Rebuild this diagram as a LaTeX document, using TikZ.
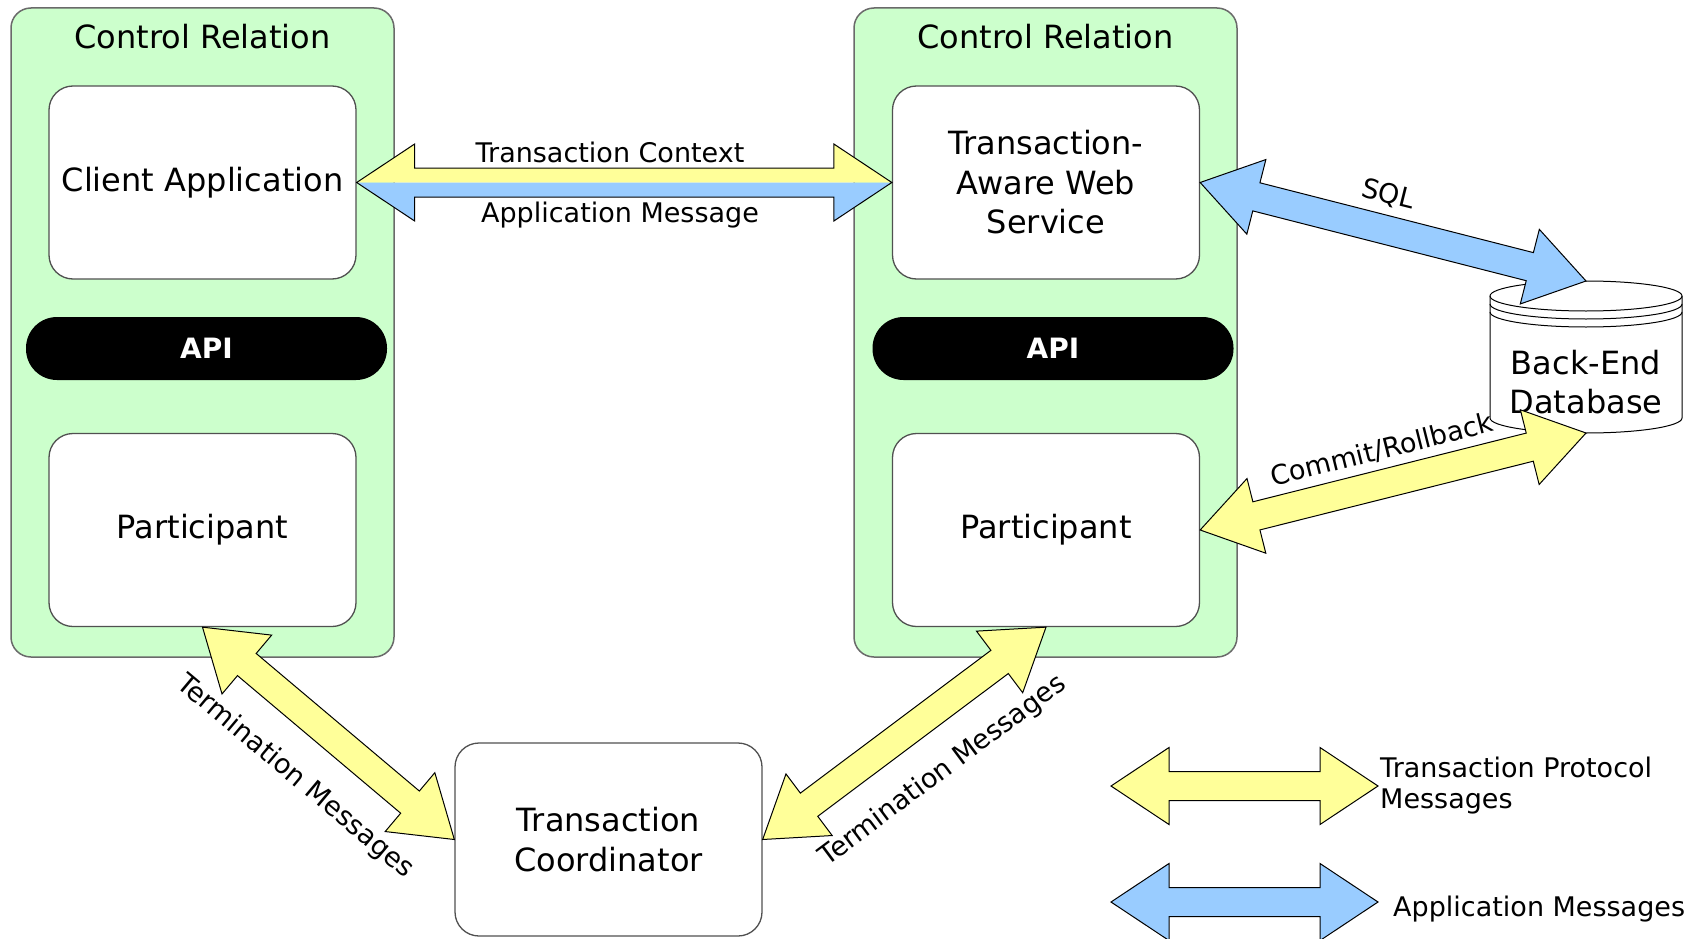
\documentclass[tikz,border=0pt]{standalone}
\usepackage{fontspec}
\setmainfont{DejaVu Sans}
\usetikzlibrary{calc}
\definecolor{crgreen}{HTML}{CCFFCC}
\definecolor{tyellow}{HTML}{FFFF99}
\definecolor{ablue}{HTML}{99CCFF}
\definecolor{boxline}{HTML}{505050}
\definecolor{crline}{HTML}{6A6A6A}
\newcommand{\boxfont}{\fontsize{32}{39.5}\selectfont}
\newcommand{\lblfont}{\fontsize{27}{31}\selectfont}
% full double-headed block arrow from #2 to #3
\newcommand{\dblarrow}[3][]{%
 \path[#1] (#2)
 -- ($(#2)!58pt!(#3)!38.5pt!90:(#3)$)
 -- ($(#2)!58pt!(#3)!14.5pt!90:(#3)$)
 -- ($(#3)!58pt!(#2)!14.5pt!-90:(#2)$)
 -- ($(#3)!58pt!(#2)!38.5pt!-90:(#2)$)
 -- (#3)
 -- ($(#3)!58pt!(#2)!38.5pt!90:(#2)$)
 -- ($(#3)!58pt!(#2)!14.5pt!90:(#2)$)
 -- ($(#2)!58pt!(#3)!14.5pt!-90:(#3)$)
 -- ($(#2)!58pt!(#3)!38.5pt!-90:(#3)$)
 -- cycle;}
% left (CCW) half of the block arrow
\newcommand{\halfup}[3][]{%
 \path[#1] (#2)
 -- ($(#2)!58pt!(#3)!38.5pt!90:(#3)$)
 -- ($(#2)!58pt!(#3)!14.5pt!90:(#3)$)
 -- ($(#3)!58pt!(#2)!14.5pt!-90:(#2)$)
 -- ($(#3)!58pt!(#2)!38.5pt!-90:(#2)$)
 -- (#3) -- cycle;}
\newcommand{\halfdown}[3][]{%
 \path[#1] (#3)
 -- ($(#3)!58pt!(#2)!38.5pt!90:(#2)$)
 -- ($(#3)!58pt!(#2)!14.5pt!90:(#2)$)
 -- ($(#2)!58pt!(#3)!14.5pt!-90:(#3)$)
 -- ($(#2)!58pt!(#3)!38.5pt!-90:(#3)$)
 -- (#2) -- cycle;}
\tikzset{
 container/.style={draw=crline, line width=1.5pt, fill=crgreen, rounded corners=20pt,
   minimum width=383pt, minimum height=649pt, inner sep=0pt},
 whitebox/.style={draw=boxline, line width=1.3pt, fill=white, rounded corners=24pt,
   minimum width=307pt, minimum height=193pt, inner sep=0pt, align=center, font=\boxfont},
 apibar/.style={fill=black, rounded corners=31pt, minimum width=361pt, minimum height=63pt,
   inner sep=0pt, text=white, font=\bfseries\fontsize{28}{30}\selectfont},
 arrowline/.style={draw=black, line width=1pt, line join=miter},
 lbl/.style={font=\lblfont, inner sep=0pt},
 titlelbl/.style={font=\boxfont, inner sep=0pt},
 dbline/.style={draw=black, line width=1pt}
}
\begin{document}
\begin{tikzpicture}[x=1pt, y=-1pt]
\useasboundingbox[fill=white] (0,0) rectangle (1694,939);

% containers
\node[container] (crL) at (202.5,332.5) {};
\node[container] (crR) at (1045.5,332.5) {};
\node[titlelbl] (crLlabel) at (202.5,36.5) {Control Relation};
\node[titlelbl] (crRlabel) at (1045.5,36.5) {Control Relation};

% inner boxes
\node[whitebox] (client) at (202.5,182.5) {Client Application};
\node[whitebox] (taws) at (1046,182.5) {Transaction-\\Aware Web\\Service};
\node[apibar] (apiL) at (206.5,348.5) {API};
\node[apibar] (apiR) at (1053,348.5) {API};
\node[whitebox] (partL) at (202.5,530) {Participant};
\node[whitebox] (partR) at (1046,530) {Participant};
\node[whitebox] (coord) at (608.5,839.5) {Transaction\\Coordinator};

% database
\filldraw[dbline, fill=white] (1490,296) -- (1490,418)
  arc[start angle=180, end angle=360, x radius=96pt, y radius=15pt]
  -- (1682,296)
  arc[start angle=0, end angle=180, x radius=96pt, y radius=15pt] -- cycle;
\draw[dbline] (1490,296) arc[start angle=180, end angle=360, x radius=96pt, y radius=15pt];
\draw[dbline] (1490,304) arc[start angle=180, end angle=360, x radius=96pt, y radius=15pt];
\draw[dbline] (1490,312) arc[start angle=180, end angle=360, x radius=96pt, y radius=15pt];
\node[titlelbl, align=center] (db) at (1586,382) {Back-End\\Database};
\coordinate (dbtop) at (1586,281);
\coordinate (dbbot) at (1586,433);

% client <-> web service (two-colour arrow)
\halfup[fill=tyellow]{client.east}{taws.west}
\halfdown[fill=ablue]{client.east}{taws.west}
\dblarrow[arrowline]{client.east}{taws.west}
\node[lbl, anchor=base] (tclbl) at (610,162) {Transaction Context};
\node[lbl, anchor=base] (amlbl) at (620,222) {Application Message};

% SQL and commit/rollback
\dblarrow[arrowline, fill=ablue]{taws.east}{dbtop}
\dblarrow[arrowline, fill=tyellow]{partR.east}{dbbot}
\node[lbl, rotate=-14] (sqllbl) at (1388,195) {SQL};
\node[lbl, rotate=14.1] (crlbl) at (1382,450) {Commit/Rollback};

% termination messages
\dblarrow[arrowline, fill=tyellow]{partL.south}{coord.west}
\dblarrow[arrowline, fill=tyellow]{coord.east}{partR.south}
\node[lbl, rotate=-40] (tmL) at (295,777) {Termination Messages};
\node[lbl, rotate=36.7] (tmR) at (943,771) {Termination Messages};

% legend
\coordinate (lgY1) at (1111,786);
\coordinate (lgY2) at (1378,786);
\coordinate (lgB1) at (1111,902);
\coordinate (lgB2) at (1378,902);
\dblarrow[arrowline, fill=tyellow]{lgY1}{lgY2}
\dblarrow[arrowline, fill=ablue]{lgB1}{lgB2}
\node[lbl, align=left, anchor=west] (lgYtext) at (1380,785.5) {Transaction Protocol\\Messages};
\node[lbl, anchor=base west] (lgBtext) at (1393,916) {Application Messages};
\end{tikzpicture}
\end{document}
